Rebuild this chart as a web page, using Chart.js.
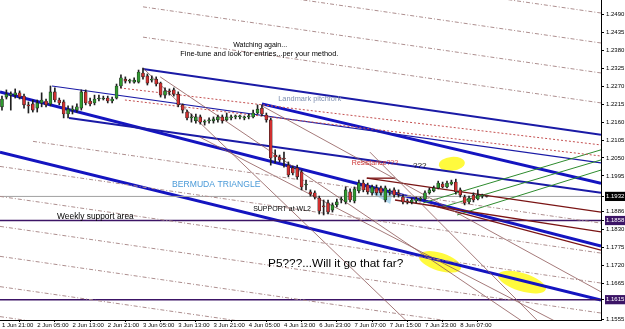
<!DOCTYPE html>
<html lang="en">
<head>
  <meta charset="UTF-8">
  <title>EURUSD H1 - pitchforks</title>
  <script src="https://cdn.jsdelivr.net/npm/chart.js"></script>
  <style>
    body, html { margin: 0; padding: 0; background: #fff; }
    #chart { display: block; }
  </style>
</head>
<body>
  <canvas id="chart" width="625" height="329"></canvas>

  <script>
    // hourly bars, 1 Jun 21:00 .. 8 Jun 13:00 (weekend gap after 4 Jun)
    const opens = [
      1.2207, 1.2237, 1.2243, 1.2243, 1.2250, 1.2240, 1.2213, 1.2216, 1.2203, 1.2219,
      1.2225, 1.2216, 1.2253, 1.2228, 1.2222, 1.2185, 1.2197, 1.2197, 1.2203, 1.2253,
      1.2225, 1.2219, 1.2231, 1.2231, 1.2234, 1.2225, 1.2234, 1.2271, 1.2292, 1.2286,
      1.2283, 1.2283, 1.2311, 1.2302, 1.2289, 1.2292, 1.2280, 1.2243, 1.2256, 1.2259,
      1.2246, 1.2213, 1.2191, 1.2173, 1.2164, 1.2176, 1.2160, 1.2164, 1.2164, 1.2167,
      1.2176, 1.2167, 1.2173, 1.2176, 1.2176, 1.2173, 1.2176, 1.2176, 1.2188, 1.2203,
      1.2182, 1.2167, 1.2059, 1.2053, 1.2050, 1.2028, 1.2019, 1.2019, 1.2007, 1.1967,
      1.1946, 1.1943, 1.1927, 1.1903, 1.1912, 1.1890, 1.1906, 1.1921, 1.1915, 1.1946,
      1.1918, 1.1949, 1.1973, 1.1967, 1.1943, 1.1958, 1.1958, 1.1921, 1.1946, 1.1952,
      1.1943, 1.1930, 1.1918, 1.1915, 1.1918, 1.1924, 1.1924, 1.1943, 1.1949, 1.1958,
      1.1970, 1.1961, 1.1970, 1.1976, 1.1952, 1.1930, 1.1915, 1.1936, 1.1924, 1.1933,
      1.1933
    ];
    const highs = [
      1.2240, 1.2259, 1.2253, 1.2262, 1.2256, 1.2246, 1.2222, 1.2228, 1.2228, 1.2250,
      1.2231, 1.2271, 1.2265, 1.2234, 1.2228, 1.2210, 1.2210, 1.2216, 1.2259, 1.2259,
      1.2234, 1.2243, 1.2243, 1.2240, 1.2240, 1.2237, 1.2277, 1.2305, 1.2299, 1.2292,
      1.2296, 1.2320, 1.2326, 1.2308, 1.2302, 1.2299, 1.2283, 1.2265, 1.2262, 1.2265,
      1.2253, 1.2216, 1.2197, 1.2185, 1.2185, 1.2182, 1.2167, 1.2173, 1.2176, 1.2182,
      1.2182, 1.2188, 1.2182, 1.2182, 1.2182, 1.2179, 1.2185, 1.2197, 1.2213, 1.2213,
      1.2188, 1.2173, 1.2075, 1.2059, 1.2068, 1.2038, 1.2025, 1.2028, 1.2013, 1.1982,
      1.1952, 1.1949, 1.1933, 1.1921, 1.1921, 1.1912, 1.1924, 1.1930, 1.1961, 1.1955,
      1.1961, 1.1982, 1.1982, 1.1973, 1.1967, 1.1967, 1.1964, 1.1964, 1.1955, 1.1958,
      1.1952, 1.1936, 1.1924, 1.1927, 1.1930, 1.1930, 1.1949, 1.1958, 1.1964, 1.1979,
      1.1976, 1.1979, 1.1982, 1.1985, 1.1958, 1.1936, 1.1933, 1.1943, 1.1952, 1.1939,
      1.1936
    ];
    const lows = [
      1.2197, 1.2231, 1.2197, 1.2234, 1.2231, 1.2203, 1.2188, 1.2191, 1.2191, 1.2207,
      1.2207, 1.2210, 1.2222, 1.2213, 1.2173, 1.2173, 1.2185, 1.2191, 1.2197, 1.2213,
      1.2210, 1.2213, 1.2225, 1.2228, 1.2219, 1.2219, 1.2231, 1.2265, 1.2280, 1.2280,
      1.2280, 1.2280, 1.2292, 1.2274, 1.2283, 1.2271, 1.2237, 1.2234, 1.2243, 1.2240,
      1.2207, 1.2188, 1.2167, 1.2160, 1.2157, 1.2154, 1.2151, 1.2157, 1.2157, 1.2160,
      1.2157, 1.2164, 1.2167, 1.2170, 1.2170, 1.2167, 1.2170, 1.2173, 1.2185, 1.2179,
      1.2160, 1.2028, 1.2035, 1.2038, 1.2022, 1.1992, 1.1998, 1.1985, 1.1952, 1.1952,
      1.1933, 1.1924, 1.1878, 1.1875, 1.1878, 1.1884, 1.1900, 1.1912, 1.1909, 1.1915,
      1.1912, 1.1943, 1.1946, 1.1939, 1.1936, 1.1936, 1.1936, 1.1915, 1.1936, 1.1930,
      1.1930, 1.1909, 1.1909, 1.1909, 1.1912, 1.1918, 1.1921, 1.1939, 1.1946, 1.1955,
      1.1958, 1.1958, 1.1967, 1.1939, 1.1930, 1.1906, 1.1909, 1.1915, 1.1921, 1.1927,
      1.1930
    ];
    const closes = [
      1.2231, 1.2246, 1.2246, 1.2250, 1.2237, 1.2213, 1.2210, 1.2197, 1.2219, 1.2228,
      1.2213, 1.2253, 1.2228, 1.2219, 1.2185, 1.2200, 1.2197, 1.2207, 1.2253, 1.2219,
      1.2216, 1.2231, 1.2231, 1.2234, 1.2225, 1.2231, 1.2271, 1.2296, 1.2286, 1.2286,
      1.2289, 1.2314, 1.2299, 1.2280, 1.2292, 1.2277, 1.2243, 1.2256, 1.2253, 1.2246,
      1.2213, 1.2197, 1.2173, 1.2173, 1.2176, 1.2160, 1.2160, 1.2164, 1.2170, 1.2176,
      1.2164, 1.2176, 1.2173, 1.2176, 1.2176, 1.2173, 1.2179, 1.2188, 1.2200, 1.2185,
      1.2167, 1.2050, 1.2053, 1.2044, 1.2047, 1.1998, 1.2004, 1.1992, 1.1961, 1.1967,
      1.1939, 1.1930, 1.1887, 1.1900, 1.1884, 1.1906, 1.1915, 1.1921, 1.1952, 1.1921,
      1.1955, 1.1973, 1.1952, 1.1946, 1.1961, 1.1943, 1.1943, 1.1958, 1.1946, 1.1936,
      1.1939, 1.1915, 1.1915, 1.1921, 1.1924, 1.1924, 1.1943, 1.1952, 1.1958, 1.1973,
      1.1961, 1.1973, 1.1976, 1.1946, 1.1936, 1.1912, 1.1927, 1.1921, 1.1936, 1.1933,
      1.1932
    ];

    // bottom axis: one label every 8 bars
    const timeLabels = [
      "1 Jun 21:00", "2 Jun 05:00", "2 Jun 13:00", "2 Jun 21:00", "3 Jun 05:00",
      "3 Jun 13:00", "3 Jun 21:00", "4 Jun 05:00", "4 Jun 13:00", "6 Jun 23:00",
      "7 Jun 07:00", "7 Jun 15:00", "7 Jun 23:00", "8 Jun 07:00"
    ];
    const priceTicks = [
      1.2490, 1.2435, 1.2380, 1.2325, 1.2270, 1.2215, 1.2160, 1.2105, 1.2050,
      1.1995, 1.1886, 1.1830, 1.1775, 1.1720, 1.1665, 1.1555
    ];
    const bidPrice = 1.1932;
    const supportLevels = [1.1858, 1.1615];

    // drawn objects: [bar1, price1, bar2, price2]
    const forkThick = [
      [-0.45, 1.2253, 135.95, 1.1780],
      [59.0, 1.2216, 135.95, 1.1972],
      [-0.45, 1.2068, 135.95, 1.1614]
    ];
    const forkMedium = [
      [32.0, 1.2323, 135.95, 1.2121],
      [15.21, 1.2173, 135.95, 1.1943]
    ];
    const forkThin = [
      [11.35, 1.2271, 135.95, 1.2035]
    ];
    const warningLines = [
      [32.0, 1.2698, 135.95, 1.2495],
      [32.0, 1.2606, 135.95, 1.2403],
      [32.0, 1.2514, 135.95, 1.2311],
      [32.0, 1.2421, 135.95, 1.2219],
      [7.04, 1.2101, 135.95, 1.1850],
      [-0.45, 1.2024, 135.95, 1.1758],
      [-0.45, 1.1932, 135.95, 1.1666],
      [-0.45, 1.1840, 135.95, 1.1574],
      [-0.45, 1.1748, 135.95, 1.1482],
      [-0.45, 1.1655, 135.95, 1.1390],
      [-0.45, 1.1563, 135.95, 1.1298]
    ];
    const dottedLines = [
      [26.8, 1.2265, 135.95, 1.2090],
      [27.9, 1.2228, 135.95, 1.2056]
    ];
    const steepLines = [
      [32.0, 1.2326, 94.4, 1.1516],
      [35.9, 1.2299, 121.0, 1.1522],
      [59.0, 1.2210, 135.95, 1.1639],
      [83.5, 1.2068, 122.1, 1.1543],
      [44.9, 1.2114, 135.95, 1.1476]
    ];
    const brownFork = [
      [82.8, 1.1988, 89.2, 1.1988],
      [82.8, 1.1988, 135.95, 1.1884],
      [89.2, 1.1921, 135.95, 1.1823],
      [97.2, 1.1906, 135.95, 1.1767]
    ];
    const greenFork = [
      [95.6, 1.1912, 135.95, 1.2075],
      [99.4, 1.1897, 135.95, 1.2044],
      [103.3, 1.1875, 135.95, 1.2013]
    ];

    const annotations = [
      { text: "Watching again...", bar: 58.6, price: 1.2397, size: 7, color: "#000", align: "center" },
      { text: "Fine-tune and look for entries...per your method.", bar: 58.4, price: 1.2369, size: 7.4, color: "#000", align: "center" },
      { text: "Landmark pitchfork", bar: 62.7, price: 1.2231, size: 7.4, color: "#7f8fb0", align: "left" },
      { text: "Resistance???", bar: 79.4, price: 1.2035, size: 7, color: "#cc3333", align: "left" },
      { text: "???", bar: 93.3, price: 1.2025, size: 8, color: "#000", align: "left" },
      { text: "BERMUDA TRIANGLE", bar: 38.6, price: 1.1967, size: 8.6, color: "#4a9ad8", align: "left" },
      { text: "SUPPORT at WL2", bar: 57.0, price: 1.1893, size: 7, color: "#000", align: "left" },
      { text: "Weekly support area", bar: 12.5, price: 1.1869, size: 8.4, color: "#000", align: "left" },
      { text: "P5???...Will it go that far?", bar: 60.4, price: 1.1725, size: 11.8, color: "#000", align: "left" }
    ];
    const highlights = [
      { bar: 102.1, price: 1.2032, rx: 13, ry: 7, rot: -0.1 },
      { bar: 99.4, price: 1.1731, rx: 22, ry: 9, rot: 0.3 },
      { bar: 118.0, price: 1.1669, rx: 25, ry: 9, rot: 0.3 }
    ];
    const bermuda = [[78.5, 1.1985], [88.7, 1.1949], [88.1, 1.1909]];

    const idx = opens.map((_, i) => i);

    function segment(seg, color, width, dash) {
      return {
        type: "line",
        data: [{ x: seg[0], y: seg[1] }, { x: seg[2], y: seg[3] }],
        borderColor: color,
        borderWidth: width,
        borderDash: dash || [],
        pointRadius: 0,
        clip: 0,
        order: 5
      };
    }
    function level(price, color, width) {
      return segment([-1, price, 137, price], color, width);
    }

    const lineSets = [
      ...warningLines.map(s => segment(s, "#ad8e8e", 1, [4, 2, 1, 2])),
      ...dottedLines.map(s => segment(s, "#c45050", 1, [2, 2])),
      ...steepLines.map(s => segment(s, "#8e5858", 0.8)),
      ...brownFork.map(s => segment(s, "#7a1414", 1.3)),
      ...greenFork.map(s => segment(s, "#2e8b2e", 1)),
      level(bidPrice, "#a0a0a0", 1),
      ...supportLevels.map(p => level(p, "#3c1466", 1.5)),
      ...forkThin.map(s => segment(s, "#1a1aa6", 1.2)),
      ...forkMedium.map(s => segment(s, "#1a1aa6", 2)),
      ...forkThick.map(s => segment(s, "#1414c0", 3))
    ];

    const shapes = {
      id: "shapes",
      beforeDatasetsDraw(chart) {
        const { ctx, scales: { x, y }, chartArea: a } = chart;
        ctx.save();
        ctx.beginPath();
        ctx.rect(a.left, a.top, a.right - a.left, a.bottom - a.top);
        ctx.clip();
        ctx.fillStyle = "rgba(255, 250, 40, 0.9)";
        highlights.forEach(h => {
          ctx.beginPath();
          ctx.ellipse(x.getPixelForValue(h.bar), y.getPixelForValue(h.price), h.rx, h.ry, h.rot, 0, Math.PI * 2);
          ctx.fill();
        });
        ctx.fillStyle = "#b0d8ee";
        ctx.beginPath();
        bermuda.forEach((p, k) => {
          const px = x.getPixelForValue(p[0]), py = y.getPixelForValue(p[1]);
          k ? ctx.lineTo(px, py) : ctx.moveTo(px, py);
        });
        ctx.closePath();
        ctx.fill();
        ctx.restore();
      },
      afterDatasetsDraw(chart) {
        const { ctx, scales: { x, y } } = chart;
        ctx.save();
        ctx.textBaseline = "middle";
        annotations.forEach(t => {
          ctx.font = t.size + "px 'Liberation Sans', Arial, sans-serif";
          ctx.fillStyle = t.color;
          ctx.textAlign = t.align;
          ctx.fillText(t.text, x.getPixelForValue(t.bar), y.getPixelForValue(t.price));
        });
        ctx.restore();
      }
    };

    const marked = [bidPrice, ...supportLevels];

    new Chart(document.getElementById("chart"), {
      type: "bar",
      data: {
        datasets: [
          ...lineSets,
          {
            // candle wicks
            data: idx.map(i => ({ x: i, y: [lows[i], highs[i]] })),
            backgroundColor: "#202020",
            barThickness: 1,
            grouped: false,
            order: 2
          },
          {
            // candle bodies
            data: idx.map(i => ({ x: i, y: [opens[i], closes[i]] })),
            backgroundColor: idx.map(i => closes[i] >= opens[i] ? "#2f9a2f" : "#d03030"),
            borderColor: "#202020",
            borderWidth: 0.6,
            borderSkipped: false,
            barThickness: 3,
            minBarLength: 1,
            grouped: false,
            order: 1
          }
        ]
      },
      options: {
        responsive: false,
        animation: false,
        devicePixelRatio: 1,
        layout: { padding: 0 },
        plugins: { legend: { display: false }, tooltip: { enabled: false } },
        scales: {
          x: {
            type: "linear",
            min: -0.45,
            max: 135.95,
            offset: false,
            afterBuildTicks: s => { s.ticks = timeLabels.map((_, k) => ({ value: k * 8 })); },
            afterFit: s => { s.height = 9; s.paddingLeft = 0; s.paddingRight = 0; },
            grid: { drawOnChartArea: false, tickLength: 2, color: "#000" },
            border: { color: "#000" },
            ticks: {
              autoSkip: false,
              maxRotation: 0,
              align: "start",
              padding: 0,
              color: "#000",
              font: { family: "'Liberation Sans', Arial", size: 6 },
              callback: v => timeLabels[Math.round(v / 8)]
            }
          },
          y: {
            position: "right",
            min: 1.15526,
            max: 1.2535,
            afterBuildTicks: s => {
              s.ticks = [...priceTicks, ...marked].sort((a, b) => a - b).map(v => ({ value: v }));
            },
            afterFit: s => { s.width = 24; s.paddingTop = 0; s.paddingBottom = 0; },
            grid: { drawOnChartArea: false, tickLength: 3, color: "#000" },
            border: { color: "#000" },
            ticks: {
              autoSkip: false,
              padding: 2,
              font: { family: "'Liberation Sans', Arial", size: 6 },
              color: c => marked.includes(c.tick.value) ? "#fff" : "#000",
              showLabelBackdrop: c => marked.includes(c.tick.value),
              backdropColor: c => c.tick.value === bidPrice ? "#000" : "#3c1466",
              backdropPadding: 1,
              callback: v => v.toFixed(4)
            }
          }
        }
      },
      plugins: [shapes]
    });
  </script>
</body>
</html>
